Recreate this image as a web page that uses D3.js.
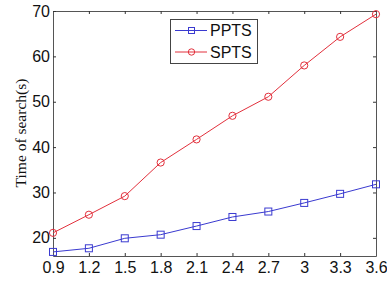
<!DOCTYPE html>
<html>
<head>
<meta charset="utf-8">
<script src="https://cdn.jsdelivr.net/npm/d3@7"></script>
<style>
  body { margin: 0; background: #fff; }
  .tick text { font-family: Arial, "Liberation Sans", sans-serif; font-size: 16px; fill: #111; }
</style>
</head>
<body>
<div id="chart"></div>
<script>
// data
let xValues = [0.9, 1.2, 1.5, 1.8, 2.1, 2.4, 2.7, 3.0, 3.3, 3.6];
let pptsValues = [16.9, 17.7, 19.9, 20.7, 22.6, 24.6, 25.8, 27.7, 29.7, 31.8];
let sptsValues = [21.1, 25.1, 29.2, 36.6, 41.7, 46.9, 51.1, 58.0, 64.3, 69.3];
let yTicks = [20, 30, 40, 50, 60, 70];
let seriesNames = ['PPTS', 'SPTS'];

let width = 387;
let height = 283;
let margin = { top: 11, right: 11, bottom: 27, left: 53 };
let axisColor = '#555';

let svg = d3.select('#chart')
  .append('svg')
  .attr('width', width)
  .attr('height', height);

let x = d3.scaleLinear()
  .domain([0.9, 3.6])
  .range([margin.left, width - margin.right]);

let y = d3.scaleLinear()
  .domain([16, 70])
  .range([height - margin.bottom, margin.top]);

// frame with inward ticks on all four sides
let xAxis = d3.axisBottom(x).tickValues(xValues).tickSizeInner(-3).tickSizeOuter(0)
  .tickFormat(d => d3.format('~g')(d));
svg.append('g')
  .attr('transform', `translate(0, ${height - margin.bottom})`)
  .call(xAxis)
  .call(g => g.selectAll('.tick text').attr('y', 5.5));

svg.append('g')
  .attr('transform', `translate(0, ${margin.top})`)
  .call(d3.axisTop(x).tickValues(xValues).tickSizeInner(-3).tickSizeOuter(0).tickFormat(''));

svg.append('g')
  .attr('transform', `translate(${margin.left}, 0)`)
  .call(d3.axisLeft(y).tickValues(yTicks).tickSizeInner(-3).tickSizeOuter(0))
  .call(g => g.selectAll('.tick text').attr('x', -3));

svg.append('g')
  .attr('transform', `translate(${width - margin.right}, 0)`)
  .call(d3.axisRight(y).tickValues(yTicks).tickSizeInner(-3).tickSizeOuter(0).tickFormat(''));

svg.selectAll('.domain').attr('stroke', axisColor);
svg.selectAll('.tick line').attr('stroke', '#333');

// y axis title
svg.append('text')
  .attr('transform', `translate(26, 133) rotate(-90)`)
  .attr('text-anchor', 'middle')
  .style('font-family', '"Liberation Serif", "Times New Roman", serif')
  .style('font-size', '15.5px')
  .attr('fill', '#111')
  .text('Time of search(s)');

let series = [
  { name: seriesNames[0], values: pptsValues, color: '#3a3ad0', marker: 'square' },
  { name: seriesNames[1], values: sptsValues, color: '#e2303c', marker: 'circle' }
];

let line = d3.line()
  .x((d, i) => x(xValues[i]))
  .y(d => y(d));

function drawMarker(g, type, cx, cy, color) {
  if (type === 'square') {
    g.append('rect')
      .attr('x', cx - 3.5).attr('y', cy - 3.5)
      .attr('width', 7).attr('height', 7)
      .attr('fill', 'none').attr('stroke', color).attr('stroke-width', 1);
  } else {
    g.append('circle')
      .attr('cx', cx).attr('cy', cy).attr('r', 3.6)
      .attr('fill', 'none').attr('stroke', color).attr('stroke-width', 1);
  }
}

series.forEach(s => {
  svg.append('path')
    .datum(s.values)
    .attr('d', line)
    .attr('fill', 'none')
    .attr('stroke', s.color)
    .attr('stroke-width', 1);
  let g = svg.append('g');
  s.values.forEach((v, i) => drawMarker(g, s.marker, x(xValues[i]), y(v), s.color));
});

// legend
let legend = svg.append('g');
legend.append('rect')
  .attr('x', 170.5).attr('y', 19.5)
  .attr('width', 87).attr('height', 44)
  .attr('fill', '#fff').attr('stroke', '#444').attr('stroke-width', 1);

series.forEach((s, i) => {
  let ly = 30.5 + i * 21.5;
  legend.append('line')
    .attr('x1', 175).attr('x2', 207)
    .attr('y1', ly).attr('y2', ly)
    .attr('stroke', s.color).attr('stroke-width', 1);
  if (s.marker === 'square') {
    legend.append('rect')
      .attr('x', 188.5).attr('y', ly - 3).attr('width', 6).attr('height', 6)
      .attr('fill', 'none').attr('stroke', s.color);
  } else {
    legend.append('circle')
      .attr('cx', 191.5).attr('cy', ly).attr('r', 3.2)
      .attr('fill', 'none').attr('stroke', s.color);
  }
  legend.append('text')
    .attr('x', 210).attr('y', ly + 5.5)
    .style('font-family', 'Arial, "Liberation Sans", sans-serif')
    .style('font-size', '16px')
    .attr('fill', '#111')
    .text(s.name);
});
</script>
</body>
</html>
